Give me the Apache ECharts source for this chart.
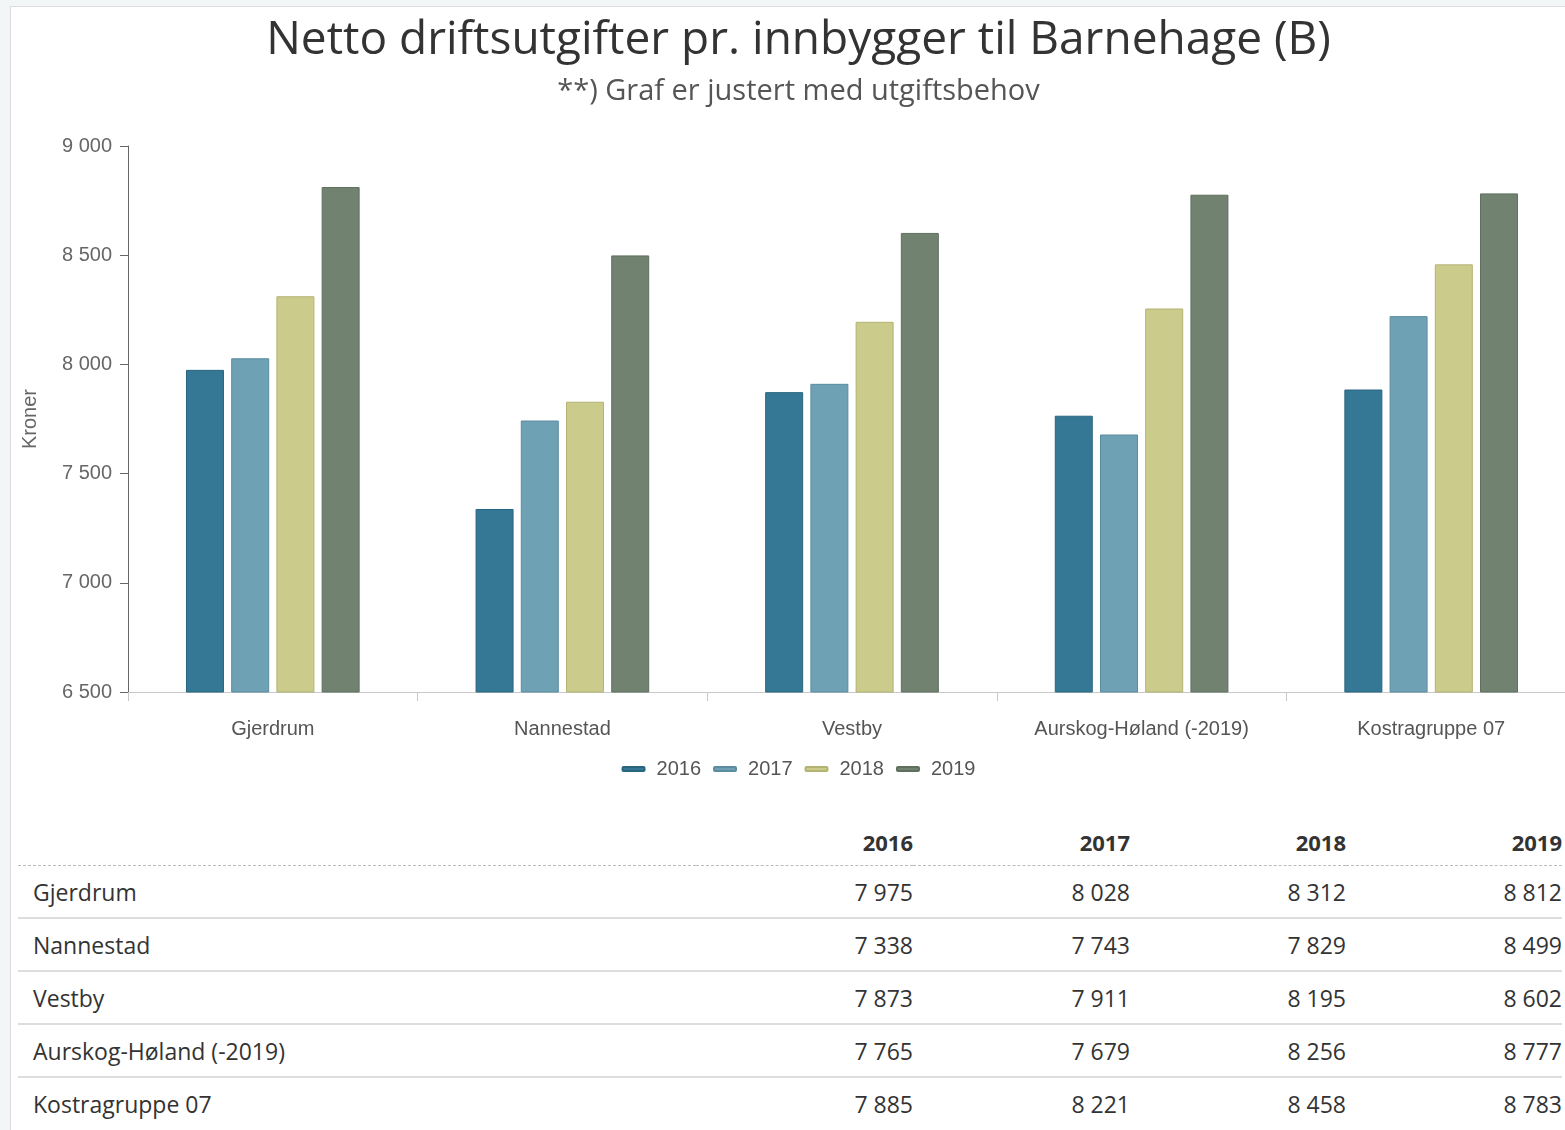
<!DOCTYPE html>
<html>
<head>
<meta charset="utf-8">
<script src="https://cdn.jsdelivr.net/npm/echarts@6/dist/echarts.min.js"></script>
<style>
  html, body { margin: 0; padding: 0; width: 1565px; height: 1130px; overflow: hidden; background: #f2f6f7; }
  .panel { position: absolute; left: 10px; top: 6px; width: 1600px; height: 1200px; background: #fff; border: 1px solid #dcdcdc; }
  #chart { position: absolute; left: 11px; top: 7px; width: 1575px; height: 800px; }
  #tbl { position: absolute; left: 18px; top: 818px; width: 1544px; table-layout: fixed; border-collapse: collapse; font-family: "Open Sans", sans-serif; font-size: 23px; color: #333; white-space: nowrap; }
  #tbl th { font-weight: bold; font-size: 22px; height: 47px; text-align: right; padding: 0; border-bottom: 1px dashed #bbb; }
  #tbl td { height: 51px; padding: 0; text-align: right; border-bottom: 2px solid #ddd; }
  #tbl td.name { text-align: left; padding-left: 15px; }
  #tbl tr:last-child td { border-bottom: none; }
</style>
</head>
<body>
<div class="panel"></div>
<div id="chart"></div>
<table id="tbl"></table>
<script>
// kategorier og verdier (kroner pr. innbygger)
const categories = ['Gjerdrum', 'Nannestad', 'Vestby', 'Aurskog-Høland (-2019)', 'Kostragruppe 07'];
const years = ['2016', '2017', '2018', '2019'];
const v2016 = [7975, 7338, 7873, 7765, 7885];
const v2017 = [8028, 7743, 7911, 7679, 8221];
const v2018 = [8312, 7829, 8195, 8256, 8458];
const v2019 = [8812, 8499, 8602, 8777, 8783];
const yTicks = [6500, 7000, 7500, 8000, 8500, 9000];

const colors = ['#347896', '#6fa1b4', '#cbcb8b', '#718270'];
const borders = ['#2a6580', '#5b8c9f', '#b3b374', '#5f705e'];
const seriesValues = [v2016, v2017, v2018, v2019];

const fmt = n => String(n).replace(/\B(?=(\d{3})+(?!\d))/g, ' ');

const chart = echarts.init(document.getElementById('chart'));
chart.setOption({
  animation: false,
  title: [
    {
      text: 'Netto driftsutgifter pr. innbygger til Barnehage (B)',
      left: 'center', top: 6,
      textStyle: { fontFamily: 'Open Sans', fontSize: 46, fontWeight: 'normal', color: '#333' },
    },
    {
      text: '**) Graf er justert med utgiftsbehov',
      left: 'center', top: 65,
      textStyle: { fontFamily: 'Open Sans', fontSize: 29, fontWeight: 'normal', color: '#555' },
    },
  ],
  legend: {
    top: 747,
    left: 'center',
    icon: 'roundRect',
    itemWidth: 22,
    itemHeight: 4,
    itemGap: 12,
    textStyle: { fontFamily: 'Liberation Sans', fontSize: 20, color: '#555', padding: [0, 0, 0, 7] },
    data: years,
  },
  grid: { left: 117, right: 10, top: 139, bottom: 115 },
  xAxis: {
    type: 'category',
    data: categories,
    axisLine: { lineStyle: { color: '#c8c8c8', width: 1 } },
    axisTick: { show: true, length: 9, lineStyle: { color: '#c8c8c8' } },
    axisLabel: { fontFamily: 'Liberation Sans', fontSize: 20, color: '#555', margin: 27 },
  },
  yAxis: {
    type: 'value',
    min: yTicks[0],
    max: yTicks[yTicks.length - 1],
    interval: 500,
    name: 'Kroner',
    nameLocation: 'middle',
    nameGap: 88,
    nameTextStyle: { fontFamily: 'Liberation Sans', fontSize: 20, color: '#666' },
    axisLine: { show: true, lineStyle: { color: '#666' } },
    axisTick: { show: true, length: 8, lineStyle: { color: '#666' } },
    splitLine: { show: false },
    axisLabel: { fontFamily: 'Liberation Sans', fontSize: 20, color: '#666', margin: 16, formatter: v => fmt(v) },
  },
  series: years.map((y, i) => ({
    name: y,
    type: 'bar',
    data: seriesValues[i],
    barWidth: 38,
    barGap: '19%',
    itemStyle: { color: colors[i], borderColor: borders[i], borderWidth: 1 },
  })),
});

// tabell under grafen
const tbl = document.getElementById('tbl');
const colW = [678, 217, 217, 216, 216];
let html = '<colgroup>' + colW.map(w => '<col style="width:' + w + 'px">').join('') + '</colgroup>';
html += '<tr><th></th>' + years.map(y => '<th>' + y + '</th>').join('') + '</tr>';
categories.forEach((c, r) => {
  html += '<tr><td class="name">' + c + '</td>' +
    seriesValues.map(s => '<td>' + fmt(s[r]) + '</td>').join('') + '</tr>';
});
tbl.innerHTML = html;
</script>
</body>
</html>
